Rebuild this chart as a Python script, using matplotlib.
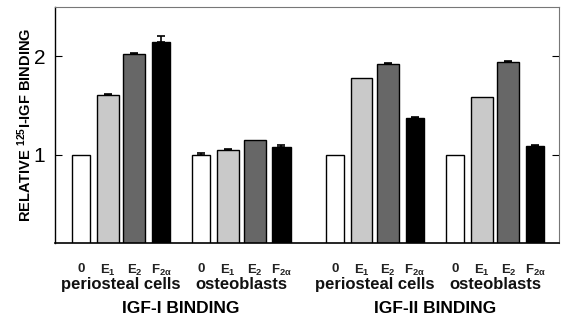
import matplotlib
matplotlib.use('Agg')
import matplotlib.pyplot as plt
import numpy as np

plt.rcParams['font.family'] = ['Liberation Sans', 'DejaVu Sans']
plt.rcParams['mathtext.fontset'] = 'custom'
plt.rcParams['mathtext.rm'] = 'Liberation Sans:bold'
plt.rcParams['mathtext.it'] = 'Liberation Sans:bold'
plt.rcParams['mathtext.default'] = 'rm'

# data
treatments = ['0', 'E$_1$', 'E$_2$', 'F$_{2\\alpha}$']
cell_types = ['periosteal cells', 'osteoblasts', 'periosteal cells', 'osteoblasts']
panels = ['IGF-I BINDING', 'IGF-II BINDING']
values = [
    [1.00, 1.61, 2.02, 2.14],   # IGF-I periosteal
    [1.00, 1.05, 1.15, 1.08],   # IGF-I osteoblasts
    [1.00, 1.78, 1.92, 1.37],   # IGF-II periosteal
    [1.00, 1.59, 1.94, 1.09],   # IGF-II osteoblasts
]
errors = [
    [0.00, 0.01, 0.01, 0.07],
    [0.02, 0.01, 0.00, 0.02],
    [0.00, 0.00, 0.01, 0.01],
    [0.00, 0.00, 0.015, 0.01],
]

colors = ['white', '#c9c9c9', '#676767', 'black']
widths = [0.68, 0.82, 0.82, 0.7]
group_starts = [0, 4.5, 9.5, 14]

fig = plt.figure(figsize=(5.62, 3.2), dpi=100)
ax = fig.add_axes([0.098, 0.24, 0.897, 0.738])

xt, xl = [], []
for g, start in enumerate(group_starts):
    for i in range(4):
        x = start + i
        ax.bar(x, values[g][i], width=widths[i], bottom=0, color=colors[i],
               edgecolor='black', linewidth=1.0, zorder=2)
        if errors[g][i] > 0:
            ax.errorbar(x, values[g][i], yerr=[[0], [errors[g][i]]], fmt='none',
                        ecolor='black', elinewidth=1.2, capsize=3, capthick=1.2, zorder=3)
        xt.append(x)
        xl.append(treatments[i])

ax.set_xlim(-0.97, 17.9)
ax.set_ylim(0.1, 2.5)
ax.set_yticks([1, 2])
ax.set_yticklabels(['1', '2'], fontsize=15)
ax.tick_params(axis='y', direction='in', length=5, right=True, width=0.8, pad=7)
ax.set_xticks(xt)
ax.set_xticklabels(xl, fontsize=9.5, fontweight='bold', color='#222222')
ax.tick_params(axis='x', length=0, pad=14)
for s in ['top', 'right']:
    ax.spines[s].set_color('#777777')
ax.spines['bottom'].set_linewidth(1.2)
ax.spines['left'].set_linewidth(1.0)

ax.set_ylabel('RELATIVE $^{125}$I-IGF BINDING', fontsize=10.5, fontweight='bold')
ax.yaxis.set_label_coords(-0.042, 0.5)

trans = ax.get_xaxis_transform()
for g, start in enumerate(group_starts):
    ax.text(start + 1.5, -0.145, cell_types[g], transform=trans, ha='center', va='top',
            fontsize=12, fontweight='bold', color='#111111')
for p, panel in enumerate(panels):
    cx = (group_starts[2 * p] + group_starts[2 * p + 1] + 3) / 2
    ax.text(cx, -0.245, panel, transform=trans, ha='center', va='top',
            fontsize=12.5, fontweight='bold')

fig.savefig('out.png', dpi=100)
plt.close(fig)
